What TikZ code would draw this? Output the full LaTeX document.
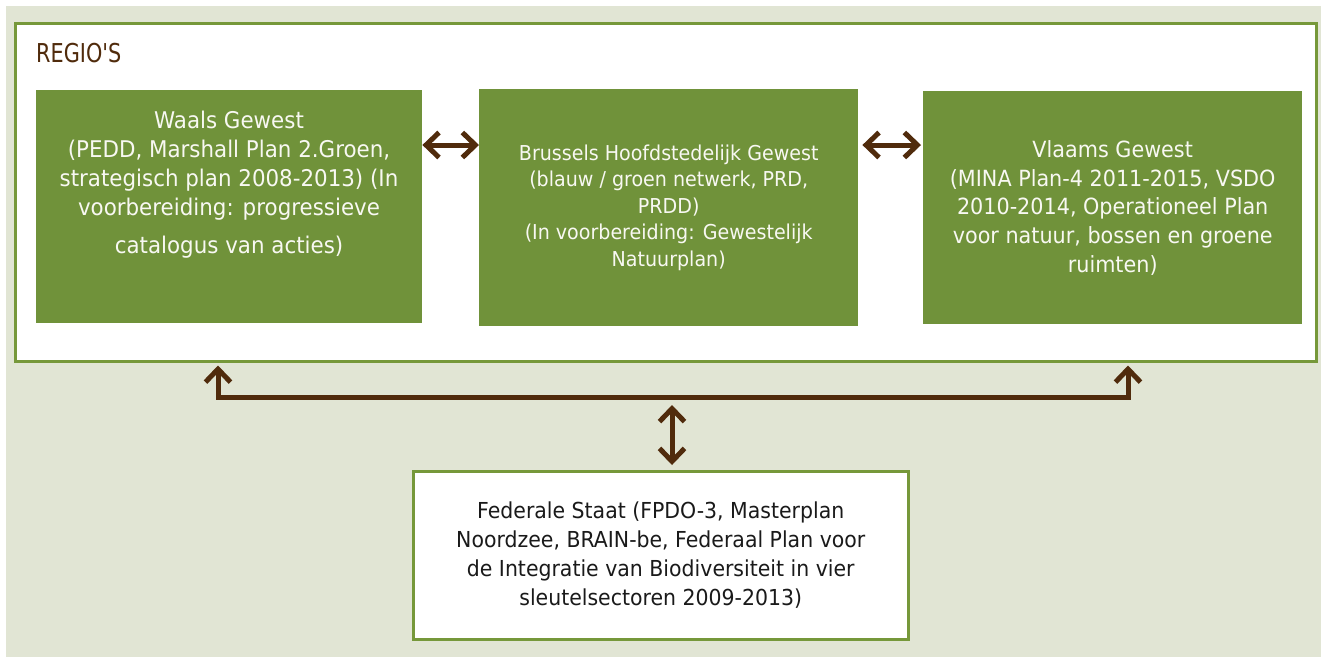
\documentclass[tikz,border=0pt]{standalone}
\usepackage{fontspec}
\setmainfont{DejaVu Sans}[FakeStretch=0.93]
\newfontfamily\titlefont{DejaVu Sans}[FakeStretch=0.8]
\usetikzlibrary{arrows.meta}
\definecolor{bg}{HTML}{E1E5D4}
\definecolor{gfill}{HTML}{70923A}
\definecolor{gline}{HTML}{76983A}
\definecolor{brn}{HTML}{502B0C}
\definecolor{wtxt}{HTML}{F8F8F2}
\definecolor{dtxt}{HTML}{1A1A1A}
\begin{document}
\begin{tikzpicture}[x=1pt,y=-1pt,
  gbox/.style={fill=gfill, draw=none, inner sep=0pt, align=center, text=wtxt,
    font=\fontsize{23}{29}\selectfont},
  wbox/.style={fill=white, draw=gline, line width=2.5pt, inner sep=0pt, align=center},
  gtext/.style={inner sep=0pt, align=center, text=wtxt, font=\fontsize{23}{29}\selectfont},
  barb/.tip={Straight Barb[length=13pt,width=25pt]},
  conn/.style={draw=brn, line width=5pt, line join=miter, barb-barb},
]
\useasboundingbox (0,0) rectangle (1321,657);
\fill[bg] (6,6) rectangle (1321,657);
\node[wbox, minimum width=1301pt, minimum height=338pt, anchor=north west] (regions) at (14,22) {};
\node[anchor=base west, inner sep=0pt, text=brn, font=\titlefont\fontsize{26}{30}\selectfont] (title) at (36,62) {REGIO'S};

\node[gbox, minimum width=386pt, minimum height=233pt, anchor=north west] (waals) at (36,90) {};
\node[gtext, anchor=north] (waalstxt) at (229,111) {Waals Gewest\\(PEDD, Marshall Plan 2.Groen,\\strategisch plan 2008-2013) (In\\voorbereiding: progressieve\\[9pt]catalogus van acties)};

\node[gbox, minimum width=379pt, minimum height=237pt, anchor=north west,
  font=\fontsize{20.5}{26.5}\selectfont] (brussels) at (479,89)
  {Brussels Hoofdstedelijk Gewest\\(blauw / groen netwerk, PRD,\\PRDD)\\(In voorbereiding: Gewestelijk\\Natuurplan)};

\node[gbox, minimum width=379pt, minimum height=233pt, anchor=north west,
  font=\fontsize{22.3}{28.7}\selectfont] (vlaams) at (923,91)
  {Vlaams Gewest\\(MINA Plan-4 2011-2015, VSDO\\2010-2014, Operationeel Plan\\voor natuur, bossen en groene\\ruimten)};

\node[wbox, minimum width=495pt, minimum height=168pt, anchor=north west, text=dtxt,
  font=\fontsize{22}{29}\selectfont] (federal) at (412,470)
  {Federale Staat (FPDO-3, Masterplan\\Noordzee, BRAIN-be, Federaal Plan voor\\de Integratie van Biodiversiteit in vier\\sleutelsectoren 2009-2013)};

\draw[conn] (waals.east |- 0,145) -- (brussels.west |- 0,145);
\draw[conn, shorten <=4pt, shorten >=2pt] (brussels.east |- 0,145) -- (vlaams.west |- 0,145);

\coordinate (jl) at (218,397);
\coordinate (jr) at (1128,397);
\coordinate (jm) at (672,397);
\draw[conn, shorten <=3pt, shorten >=3pt] (regions.south -| jl) -- (jl) -- (jr) -- (regions.south -| jr);
\draw[conn, shorten <=8pt, shorten >=5pt] (jm) -- (federal.north -| jm);
\end{tikzpicture}
\end{document}
